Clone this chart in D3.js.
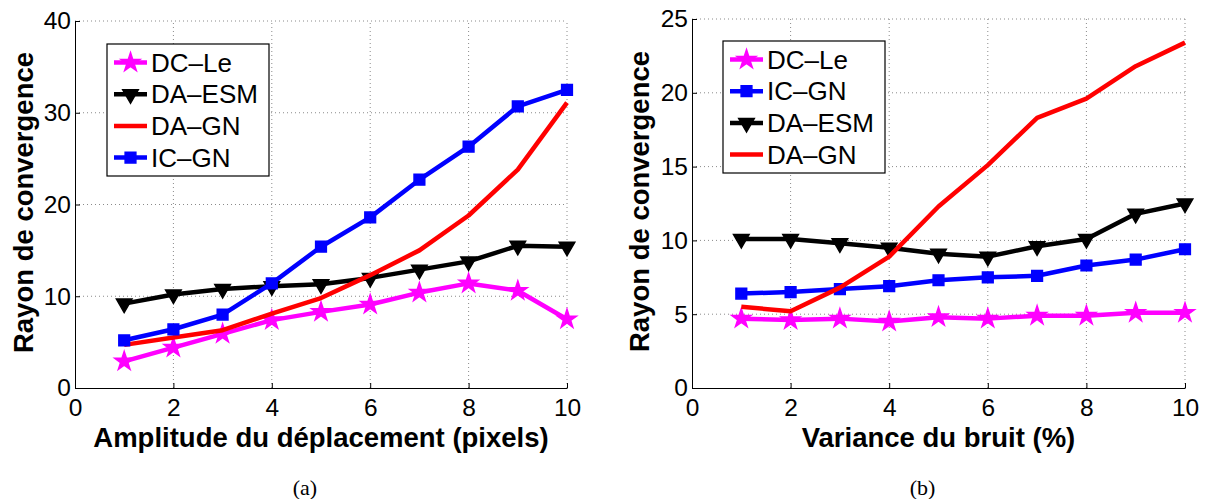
<!DOCTYPE html>
<html>
<head>
<meta charset="utf-8">
<script src="https://cdn.jsdelivr.net/npm/d3@7"></script>
<style>
  body { margin: 0; background: #fff; }
  svg { display: block; }
  text { font-family: "Liberation Sans", Arial, Helvetica, sans-serif; }
</style>
</head>
<body>
<svg id="fig" width="1207" height="499"></svg>
<script>
// ---- data ----
const xValues = [1, 2, 3, 4, 5, 6, 7, 8, 9, 10];
const xTicks = [0, 2, 4, 6, 8, 10];

// panel (a): amplitude du deplacement
const dcLeA  = [2.9, 4.4, 5.9, 7.4, 8.3, 9.1, 10.4, 11.4, 10.6, 7.5];
const daEsmA = [9.2, 10.2, 10.8, 11.1, 11.3, 12.0, 12.9, 13.8, 15.5, 15.4];
const daGnA  = [4.7, 5.5, 6.3, 8.1, 9.8, 12.3, 15.0, 18.8, 23.8, 31.1];
const icGnA  = [5.2, 6.4, 8.0, 11.4, 15.4, 18.6, 22.7, 26.3, 30.7, 32.5];
const yTicksA = [0, 10, 20, 30, 40];

// panel (b): variance du bruit
const dcLeB  = [4.7, 4.6, 4.7, 4.5, 4.8, 4.7, 4.9, 4.9, 5.1, 5.1];
const icGnB  = [6.4, 6.5, 6.7, 6.9, 7.3, 7.5, 7.6, 8.3, 8.7, 9.4];
const daEsmB = [10.1, 10.1, 9.8, 9.5, 9.1, 8.9, 9.6, 10.1, 11.8, 12.5];
const daGnB  = [5.5, 5.2, 6.8, 8.9, 12.3, 15.1, 18.3, 19.6, 21.8, 23.4];
const yTicksB = [0, 5, 10, 15, 20, 25];

const styles = {
  "DC–Le":  {color: "#ff00ff", marker: "star"},
  "DA–ESM": {color: "#000000", marker: "tri"},
  "DA–GN":  {color: "#ff0000", marker: null},
  "IC–GN":  {color: "#0000ff", marker: "square"}
};

const svg = d3.select("#fig");

function drawPanel(cfg) {
  const g = svg.append("g");
  const x = d3.scaleLinear().domain([0, 10]).range([cfg.left, cfg.right]);
  const y = d3.scaleLinear().domain([0, d3.max(cfg.yTicks)]).range([cfg.bottom, cfg.top]);

  // dotted grid
  g.selectAll(".gx").data(xTicks.filter(d => d > 0)).enter()
    .append("line")
    .attr("x1", d => x(d)).attr("x2", d => x(d))
    .attr("y1", cfg.bottom).attr("y2", cfg.top)
    .attr("stroke", "#8a8a8a").attr("stroke-width", 1)
    .attr("stroke-dasharray", "1,3");
  g.selectAll(".gy").data(cfg.yTicks.filter(d => d > 0)).enter()
    .append("line")
    .attr("y1", d => y(d)).attr("y2", d => y(d))
    .attr("x1", cfg.left).attr("x2", cfg.right)
    .attr("stroke", "#8a8a8a").attr("stroke-width", 1)
    .attr("stroke-dasharray", "1,3");

  // axes, ticks pointing inward like matlab
  const ax = g.append("g")
    .attr("transform", "translate(0," + cfg.bottom + ")")
    .call(d3.axisBottom(x).tickValues(xTicks).tickSizeInner(-5).tickSizeOuter(0).tickPadding(11));
  const ay = g.append("g")
    .attr("transform", "translate(" + cfg.left + ",0)")
    .call(d3.axisLeft(y).tickValues(cfg.yTicks).tickSizeInner(-5).tickSizeOuter(0).tickPadding(4));
  [ax, ay].forEach(a => {
    a.selectAll("text").attr("font-size", 24.5).attr("fill", "#000")
     .style("font-family", "Liberation Sans, Arial, sans-serif");
    a.select(".domain").attr("stroke", "#000");
    a.selectAll(".tick line").attr("stroke", "#000");
  });

  // series
  const line = d3.line().x((d, i) => x(xValues[i])).y(d => y(d));
  cfg.series.forEach(s => {
    const st = styles[s.name];
    g.append("path").datum(s.values)
      .attr("d", line)
      .attr("fill", "none")
      .attr("stroke", st.color)
      .attr("stroke-width", 4.5)
      .attr("stroke-linejoin", "round");
    if (st.marker) {
      g.selectAll(null).data(s.values).enter()
        .append("path")
        .attr("d", markerPath(st.marker))
        .attr("transform", (d, i) => "translate(" + x(xValues[i]) + "," + y(d) + ")" + (st.marker === "tri" ? " rotate(180)" : ""))
        .attr("fill", st.color).attr("stroke", st.color).attr("stroke-width", 1.5);
    }
  });

  // legend
  const lg = g.append("g");
  lg.append("rect")
    .attr("x", cfg.legend.x).attr("y", cfg.legend.y)
    .attr("width", cfg.legend.w).attr("height", cfg.legend.h)
    .attr("fill", "#fff").attr("stroke", "#000").attr("stroke-width", 1.2);
  cfg.series.forEach((s, i) => {
    const st = styles[s.name];
    const cy = cfg.legend.y + 18.5 + i * 31.7;
    const x0 = cfg.legend.x + 7, x1 = cfg.legend.x + 40;
    lg.append("line").attr("x1", x0).attr("x2", x1).attr("y1", cy).attr("y2", cy)
      .attr("stroke", st.color).attr("stroke-width", 4.5);
    if (st.marker) {
      lg.append("path").attr("d", markerPath(st.marker))
        .attr("transform", "translate(" + (x0 + x1) / 2 + "," + cy + ")" + (st.marker === "tri" ? " rotate(180)" : ""))
        .attr("fill", st.color).attr("stroke", st.color).attr("stroke-width", 1.5);
    }
    lg.append("text").attr("x", x1 + 4).attr("y", cy + 9)
      .attr("font-size", 26).text(s.name);
  });

  // titles
  g.append("text")
    .attr("x", (cfg.left + cfg.right) / 2).attr("y", 447)
    .attr("text-anchor", "middle").attr("font-size", 27.5).attr("font-weight", "bold")
    .text(cfg.xTitle);
  g.append("text")
    .attr("transform", "translate(" + cfg.yTitleX + "," + ((cfg.top + cfg.bottom) / 2 - 2) + ") rotate(-90)")
    .attr("text-anchor", "middle").attr("font-size", 27.5).attr("font-weight", "bold")
    .text("Rayon de convergence");
  g.append("text")
    .attr("x", (cfg.left + cfg.right) / 2 - 16).attr("y", 495)
    .attr("text-anchor", "middle").attr("font-size", 22)
    .style("font-family", "Liberation Serif, Times New Roman, serif")
    .text(cfg.caption);
}

function markerPath(kind) {
  if (kind === "star") return d3.symbol(d3.symbolStar, 110)();
  if (kind === "tri") return d3.symbol(d3.symbolTriangle, 105)();
  return d3.symbol(d3.symbolSquare, 115)();
}

drawPanel({
  left: 75, right: 567, top: 21, bottom: 388,
  yTicks: yTicksA,
  series: [
    {name: "DC–Le", values: dcLeA},
    {name: "DA–ESM", values: daEsmA},
    {name: "DA–GN", values: daGnA},
    {name: "IC–GN", values: icGnA}
  ],
  legend: {x: 107, y: 44, w: 162, h: 132},
  xTitle: "Amplitude du déplacement (pixels)",
  yTitleX: 33,
  caption: "(a)"
});

drawPanel({
  left: 692, right: 1185, top: 19, bottom: 388,
  yTicks: yTicksB,
  series: [
    {name: "DC–Le", values: dcLeB},
    {name: "IC–GN", values: icGnB},
    {name: "DA–ESM", values: daEsmB},
    {name: "DA–GN", values: daGnB}
  ],
  legend: {x: 723, y: 41, w: 162, h: 132},
  xTitle: "Variance du bruit (%)",
  yTitleX: 649,
  caption: "(b)"
});
</script>
</body>
</html>
